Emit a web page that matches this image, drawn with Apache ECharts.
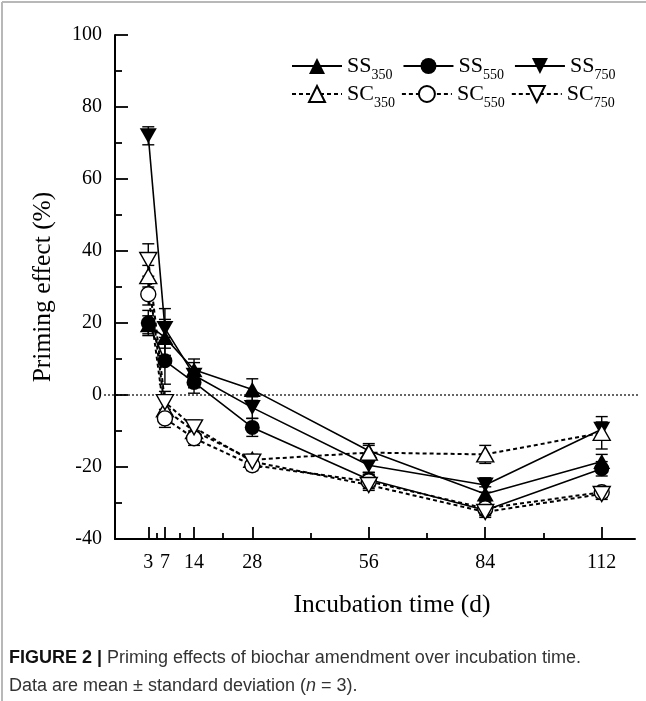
<!DOCTYPE html>
<html>
<head>
<meta charset="utf-8">
<script src="https://cdn.jsdelivr.net/npm/echarts@6/dist/echarts.min.js"></script>
<style>
  html, body { margin: 0; padding: 0; background: #fff; }
  #chart { width: 646px; height: 701px; }
</style>
</head>
<body>
<div id="chart"></div>
<script>
// incubation days
const days = [3, 7, 14, 28, 56, 84, 112]
const minorDays = [5, 10.5, 21, 42, 70, 98]

// priming effect (%) per treatment
const ss350 = [19.5, 16, 7, 1.5, -15.5, -27.5, -18.5]
const ss550 = [20, 9.5, 3.5, -9, -23.5, -32, -20.5]
const ss750 = [72, 18.5, 5.5, -3.5, -19.5, -25, -9.5]
const sc350 = [33, -4, -10, -18, -16, -16.5, -10.5]
const sc550 = [28, -6.5, -12, -19.5, -24, -31.5, -27]
const sc750 = [37.5, -2, -9, -18.5, -25, -32.5, -27.5]

// standard deviations
const ss350Sd = [2.5, 5, 3, 3, 2, 2, 2]
const ss550Sd = [3.5, 6.5, 3, 2.5, 2, 1.5, 2]
const ss750Sd = [2.5, 5.5, 3.5, 3, 2, 2, 2]
const sc350Sd = [3, 3, 2, 1.5, 2, 2.5, 4.5]
const sc550Sd = [3, 2.5, 2, 1.5, 2, 1.5, 1.5]
const sc750Sd = [4.5, 3, 2, 1.5, 1.5, 1.5, 1.5]

const serif = 'Liberation Serif'
const downTri = 'path://M0,0L20,0L10,18Z'

let myChart = echarts.init(document.getElementById('chart'))

function lineSeries(name, values, filled, symbol) {
    return {
        name: name,
        type: 'line',
        data: days.map((d, i) => [d, values[i]]),
        symbol: symbol,
        symbolSize: symbol === 'circle' ? 15 : [17, 15],
        lineStyle: {
            color: '#000',
            width: filled ? 1.6 : 2,
            type: filled ? 'solid' : [4, 3]
        },
        itemStyle: {
            color: filled ? '#000' : '#fff',
            borderColor: '#000',
            borderWidth: filled ? 0 : 1.4
        },
        z: 3
    }
}

function errorSeries(values, sd) {
    return {
        type: 'custom',
        silent: true,
        z: 2,
        data: days.map((d, i) => [d, values[i] - sd[i], values[i] + sd[i]]),
        renderItem: (params, api) => {
            const lo = api.coord([api.value(0), api.value(1)])
            const hi = api.coord([api.value(0), api.value(2)])
            const w = 6
            const style = { stroke: '#000', lineWidth: 1.4 }
            return {
                type: 'group',
                children: [
                    { type: 'line', shape: { x1: lo[0], y1: lo[1], x2: hi[0], y2: hi[1] }, style: style },
                    { type: 'line', shape: { x1: lo[0] - w, y1: lo[1], x2: lo[0] + w, y2: lo[1] }, style: style },
                    { type: 'line', shape: { x1: hi[0] - w, y1: hi[1], x2: hi[0] + w, y2: hi[1] }, style: style }
                ]
            }
        }
    }
}

const legendText = {
    fontFamily: serif,
    color: '#000',
    rich: {
        a: { fontFamily: serif, fontSize: 22, color: '#000' },
        b: { fontFamily: serif, fontSize: 14, color: '#000', verticalAlign: 'bottom', padding: [18, 0, 0, 0] }
    }
}
const legendFmt = name => '{a|' + name.slice(0, 2) + '}{b|' + name.slice(2) + '}'

const frame = [
    { type: 'line', shape: { x1: 2, y1: 2, x2: 646, y2: 2 }, style: { stroke: '#b8b8b8', lineWidth: 2 } },
    { type: 'line', shape: { x1: 2, y1: 2, x2: 2, y2: 701 }, style: { stroke: '#b8b8b8', lineWidth: 2 } },
    {
        type: 'text', left: 9, top: 649,
        style: {
            text: '{b|FIGURE 2 |}{n| Priming effects of biochar amendment over incubation time.}',
            rich: {
                b: { fontFamily: 'Liberation Sans', fontSize: 18, fontWeight: 'bold', fill: '#111' },
                n: { fontFamily: 'Liberation Sans', fontSize: 18, fill: '#333' }
            }
        }
    },
    {
        type: 'text', left: 9, top: 677,
        style: {
            text: '{n|Data are mean ± standard deviation (}{i|n}{n| = 3).}',
            rich: {
                n: { fontFamily: 'Liberation Sans', fontSize: 18, fill: '#333' },
                i: { fontFamily: 'Liberation Sans', fontSize: 18, fontStyle: 'italic', fill: '#333' }
            }
        }
    }
]

const options = {
    animation: false,
    grid: { left: 115, right: 11, top: 35, bottom: 162 },
    legend: [
        {
            data: ['SS350', 'SS550', 'SS750'],
            left: 286, top: 50,
            itemWidth: 50, itemHeight: 20, itemGap: 10,
            formatter: legendFmt,
            textStyle: legendText
        },
        {
            data: ['SC350', 'SC550', 'SC750'],
            left: 286, top: 78,
            itemWidth: 50, itemHeight: 20, itemGap: 6,
            formatter: legendFmt,
            textStyle: legendText
        }
    ],
    xAxis: [
        {
            type: 'value',
            min: -5, max: 120,
            name: 'Incubation time (d)',
            nameLocation: 'middle',
            nameGap: 53,
            nameTextStyle: { fontFamily: serif, fontSize: 25.5, color: '#000', padding: [0, 0, 0, 34] },
            splitLine: { show: false },
            axisLine: { onZero: false, lineStyle: { color: '#000', width: 2 } },
            axisTick: { inside: true, length: 12, lineStyle: { color: '#000', width: 1.8 }, customValues: days },
            axisLabel: { customValues: days, margin: 14, fontFamily: serif, fontSize: 20, color: '#000' }
        },
        {
            // minor ticks between the labelled days
            type: 'value',
            min: -5, max: 120,
            position: 'bottom',
            splitLine: { show: false },
            axisLine: { show: false, onZero: false },
            axisTick: { inside: true, length: 6, lineStyle: { color: '#000', width: 1.8 }, customValues: minorDays },
            axisLabel: { show: false }
        }
    ],
    yAxis: {
        type: 'value',
        min: -40, max: 100, interval: 20,
        name: 'Priming effect (%)',
        nameLocation: 'middle',
        nameGap: 59,
        nameTextStyle: { fontFamily: serif, fontSize: 25.5, color: '#000' },
        splitLine: { show: false },
        axisLine: { show: true, onZero: false, lineStyle: { color: '#000', width: 2 } },
        axisTick: { inside: true, length: 13, lineStyle: { color: '#000', width: 1.8 } },
        minorTick: { show: true, splitNumber: 2, length: 7, lineStyle: { color: '#000', width: 1.8 } },
        axisLabel: { margin: 13, fontFamily: serif, fontSize: 20, color: '#000' }
    },
    series: [
        errorSeries(ss350, ss350Sd),
        errorSeries(ss550, ss550Sd),
        errorSeries(ss750, ss750Sd),
        errorSeries(sc350, sc350Sd),
        errorSeries(sc550, sc550Sd),
        errorSeries(sc750, sc750Sd),
        lineSeries('SS350', ss350, true, 'triangle'),
        lineSeries('SS550', ss550, true, 'circle'),
        lineSeries('SS750', ss750, true, downTri),
        lineSeries('SC350', sc350, false, 'triangle'),
        lineSeries('SC550', sc550, false, 'circle'),
        lineSeries('SC750', sc750, false, downTri)
    ],
    graphic: frame
}
myChart.setOption(options)

//0线, 从刻度标签一直画到右边
const y0 = myChart.convertToPixel({ gridIndex: 0 }, [0, 0])[1]
myChart.setOption({
    graphic: frame.concat([{
        type: 'line', silent: true, z: 1,
        shape: { x1: 104, y1: y0, x2: 640, y2: y0 },
        style: { stroke: '#000', lineWidth: 1.2, lineDash: [2, 2] }
    }])
})
</script>
</body>
</html>
